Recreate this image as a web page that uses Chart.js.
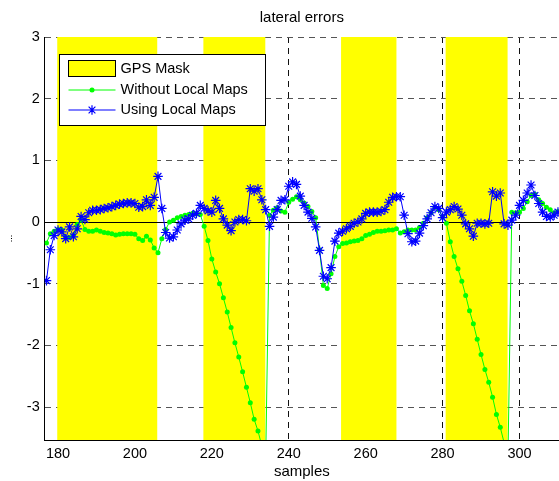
<!DOCTYPE html>
<html>
<head>
<meta charset="utf-8">
<script src="https://cdn.jsdelivr.net/npm/chart.js@4.4.0/dist/chart.umd.min.js"></script>
<style>
  body { margin: 0; background: #fff; }
  canvas { display: block; }
</style>
</head>
<body>
<canvas id="myChart" width="559" height="481"></canvas>
<script>
// samples 177 .. 310, one value per sample
const firstSample = 177;

const withoutLocalMaps = [
  -0.34, -0.19, -0.15, -0.12, -0.13, -0.25, -0.25, -0.22, -0.04, 0.03,
  -0.12, -0.15, -0.15, -0.13, -0.15, -0.17, -0.18, -0.19, -0.21, -0.20,
  -0.19, -0.19, -0.19, -0.20, -0.27, -0.30, -0.23, -0.29, -0.42, -0.50,
  -0.27, -0.12, 0.00, 0.03, 0.07, 0.09, 0.11, 0.12, 0.14, 0.13,
  0.12, -0.07, -0.30, -0.60, -0.81, -1.00, -1.23, -1.46, -1.71, -1.96,
  -2.19, -2.43, -2.68, -2.93, -3.20, -3.39, -3.63, -3.88, 0.11, 0.19,
  0.23, 0.18, 0.16, 0.32, 0.37, 0.41, 0.36, 0.31, 0.25, 0.17,
  0.07, -0.45, -1.03, -1.08, -0.84, -0.56, -0.40, -0.35, -0.34, -0.32,
  -0.31, -0.30, -0.27, -0.22, -0.20, -0.17, -0.15, -0.15, -0.14, -0.13,
  -0.13, -0.11, -0.18, -0.16, -0.13, -0.13, -0.13, -0.09, -0.02, 0.07,
  0.15, 0.24, 0.20, 0.08, -0.02, -0.32, -0.56, -0.76, -0.96, -1.19,
  -1.44, -1.65, -1.90, -2.15, -2.39, -2.60, -2.84, -3.12, -3.33, -3.58,
  -3.83, 0.16, 0.15, 0.16, 0.22, 0.33, 0.43, 0.45, 0.36, 0.30,
  0.24, 0.20, 0.15, 0.17
];

const usingLocalMaps = [
  -0.95, -0.45, -0.22, -0.13, -0.16, -0.27, -0.08, -0.24, -0.11, 0.09,
  0.04, 0.15, 0.19, 0.19, 0.20, 0.22, 0.23, 0.25, 0.27, 0.29,
  0.30, 0.31, 0.31, 0.30, 0.24, 0.25, 0.36, 0.27, 0.40, 0.74,
  0.22, -0.17, -0.26, -0.24, -0.13, -0.03, 0.03, 0.05, 0.11, 0.14,
  0.27, 0.22, 0.18, 0.16, 0.35, 0.22, 0.05, -0.05, -0.14, 0.00,
  0.04, 0.04, 0.02, 0.54, 0.50, 0.54, 0.36, 0.20, -0.07, 0.08,
  0.20, 0.35, 0.36, 0.58, 0.65, 0.61, 0.42, 0.27, 0.16, 0.06,
  -0.08, -0.46, -0.88, -0.92, -0.74, -0.31, -0.18, -0.15, -0.11, -0.07,
  -0.02, 0.00, 0.05, 0.14, 0.16, 0.16, 0.16, 0.17, 0.20, 0.32,
  0.40, 0.41, 0.41, 0.11, -0.19, -0.32, -0.31, -0.18, -0.06, 0.05,
  0.15, 0.25, 0.22, 0.07, 0.16, 0.20, 0.25, 0.21, 0.11, -0.03,
  -0.11, -0.23, -0.02, -0.02, -0.03, -0.02, 0.49, 0.42, 0.47, -0.03,
  -0.05, 0.03, 0.11, 0.27, 0.35, 0.47, 0.60, 0.43, 0.30, 0.16,
  0.09, 0.08, 0.11, 0.16
];

// GPS outage windows (sample index)
const gpsMaskStart = [179.8, 217.8, 253.6, 280.8];
const gpsMaskEnd = [205.8, 233.9, 268.0, 296.9];

const xTicks = [180, 200, 220, 240, 260, 280, 300];
const yTicks = [-3, -2, -1, 0, 1, 2, 3];
const seriesLabels = ["GPS Mask", "Without Local Maps", "Using Local Maps"];

const FONT = '"Liberation Sans", Arial, sans-serif';
Chart.defaults.font.family = FONT;
Chart.defaults.color = "#000";

function toPoints(values) {
  return values.map((v, i) => ({ x: firstSample + i, y: v }));
}

// for yellow mask bands + zero line
const gpsMaskPlugin = {
  id: "gpsMask",
  beforeDatasetsDraw(chart) {
    const { ctx, chartArea, scales } = chart;
    const x = scales.x, y = scales.y;
    ctx.save();
    ctx.beginPath();
    ctx.rect(chartArea.left, chartArea.top, chartArea.width, chartArea.height);
    ctx.clip();
    ctx.fillStyle = "#ffff00";
    const yTop = y.getPixelForValue(y.max);
    const yBottom = y.getPixelForValue(y.min);
    gpsMaskStart.forEach((s, i) => {
      const x1 = x.getPixelForValue(s);
      const x2 = x.getPixelForValue(gpsMaskEnd[i]);
      ctx.fillRect(x1, yTop, x2 - x1, yBottom - yTop);
    });
    const y0 = Math.round(y.getPixelForValue(0) - 0.5) + 0.5;
    ctx.strokeStyle = "#000";
    ctx.lineWidth = 1;
    ctx.beginPath();
    ctx.moveTo(chartArea.left, y0);
    ctx.lineTo(chartArea.right, y0);
    ctx.stroke();
    ctx.restore();
  }
};

// for legend box (matlab style)
const legendPlugin = {
  id: "matlabLegend",
  afterDatasetsDraw(chart) {
    const { ctx, chartArea } = chart;
    const left = Math.round(chartArea.left + 14.3) + 0.5;
    const top = Math.round(chartArea.top + 17.3) + 0.5;
    ctx.save();
    ctx.fillStyle = "#fff";
    ctx.strokeStyle = "#000";
    ctx.lineWidth = 1;
    ctx.fillRect(left, top, 206, 71);
    ctx.strokeRect(left, top, 206, 71);

    const sx1 = left + 9, sx2 = left + 56, mx = left + 32.5;
    const tx = left + 61;

    // GPS Mask patch
    ctx.fillStyle = "#ffff00";
    ctx.fillRect(sx1, top + 6, sx2 - sx1, 16);
    ctx.strokeRect(sx1, top + 6, sx2 - sx1, 16);

    // green line + dot
    const gy = top + 35.5;
    ctx.strokeStyle = "#00ff00";
    ctx.beginPath();
    ctx.moveTo(sx1, gy);
    ctx.lineTo(sx2, gy);
    ctx.stroke();
    ctx.fillStyle = "#00ff00";
    ctx.beginPath();
    ctx.arc(mx, gy, 2.5, 0, Math.PI * 2);
    ctx.fill();

    // blue line + star
    const by = top + 55.5;
    ctx.strokeStyle = "#0000ff";
    ctx.lineWidth = 1.2;
    ctx.beginPath();
    ctx.moveTo(sx1, by);
    ctx.lineTo(sx2, by);
    const r = 4.8;
    for (let k = 0; k < 4; k++) {
      const a = k * Math.PI / 4;
      ctx.moveTo(mx - Math.cos(a) * r, by - Math.sin(a) * r);
      ctx.lineTo(mx + Math.cos(a) * r, by + Math.sin(a) * r);
    }
    ctx.stroke();

    ctx.fillStyle = "#000";
    ctx.font = "14.5px " + FONT;
    ctx.textBaseline = "middle";
    ctx.textAlign = "left";
    ctx.fillText(seriesLabels[0], tx, top + 14);
    ctx.fillText(seriesLabels[1], tx, gy);
    ctx.fillText(seriesLabels[2], tx, by);
    ctx.restore();
  }
};

const ctx = document.getElementById("myChart").getContext("2d");

new Chart(ctx, {
  type: "line",
  data: {
    datasets: [
      {
        label: seriesLabels[1],
        data: toPoints(withoutLocalMaps),
        order: 2,
        borderColor: "#00ff00",
        borderWidth: 1,
        pointStyle: "circle",
        pointRadius: 2.5,
        pointBackgroundColor: "#00ff00",
        pointBorderWidth: 0,
        tension: 0,
        fill: false
      },
      {
        label: seriesLabels[2],
        data: toPoints(usingLocalMaps),
        order: 1,
        borderColor: "#0000ff",
        borderWidth: 1,
        pointStyle: "star",
        pointRadius: 4.8,
        pointBorderColor: "#0000ff",
        pointBorderWidth: 1.2,
        tension: 0,
        fill: false
      }
    ]
  },
  options: {
    responsive: false,
    animation: false,
    devicePixelRatio: 1,
    events: [],
    layout: { padding: 0, autoPadding: false },
    plugins: {
      legend: { display: false },
      tooltip: { enabled: false },
      title: {
        display: true,
        text: "lateral errors",
        fullSize: false,
        color: "#000",
        font: { size: 15, weight: "normal" },
        padding: { top: 9, bottom: 10 }
      }
    },
    scales: {
      x: {
        type: "linear",
        min: 176.54,
        max: 310.27,
        afterBuildTicks: axis => {
          axis.ticks = xTicks.map(v => ({ value: v }));
        },
        afterFit: axis => {
          axis.height = 41;
          axis.paddingLeft = 0;
          axis.paddingRight = 0;
        },
        ticks: { padding: 5, color: "#000", font: { size: 14.5 } },
        grid: { color: "#111", lineWidth: 1, drawTicks: false },
        border: { display: true, color: "#000", width: 1, dash: [6, 5] },
        title: {
          display: true,
          text: "samples",
          color: "#000",
          font: { size: 15 },
          padding: { top: 0, bottom: 0 }
        }
      },
      y: {
        type: "linear",
        min: -3.535,
        max: 3,
        afterBuildTicks: axis => {
          axis.ticks = yTicks.map(v => ({ value: v }));
        },
        afterFit: axis => {
          axis.width = 44.7;
          axis.paddingTop = 0;
          axis.paddingBottom = 0;
        },
        ticks: { padding: 5, color: "#000", font: { size: 14.5 } },
        grid: { color: "#555", lineWidth: 1, drawTicks: false },
        border: { display: true, color: "#000", width: 1, dash: [6, 5] },
        title: {
          display: true,
          text: "...",
          color: "#000",
          font: { size: 9 },
          padding: { top: 4.6, bottom: 0 }
        }
      }
    }
  },
  plugins: [gpsMaskPlugin, legendPlugin]
});
</script>
</body>
</html>
